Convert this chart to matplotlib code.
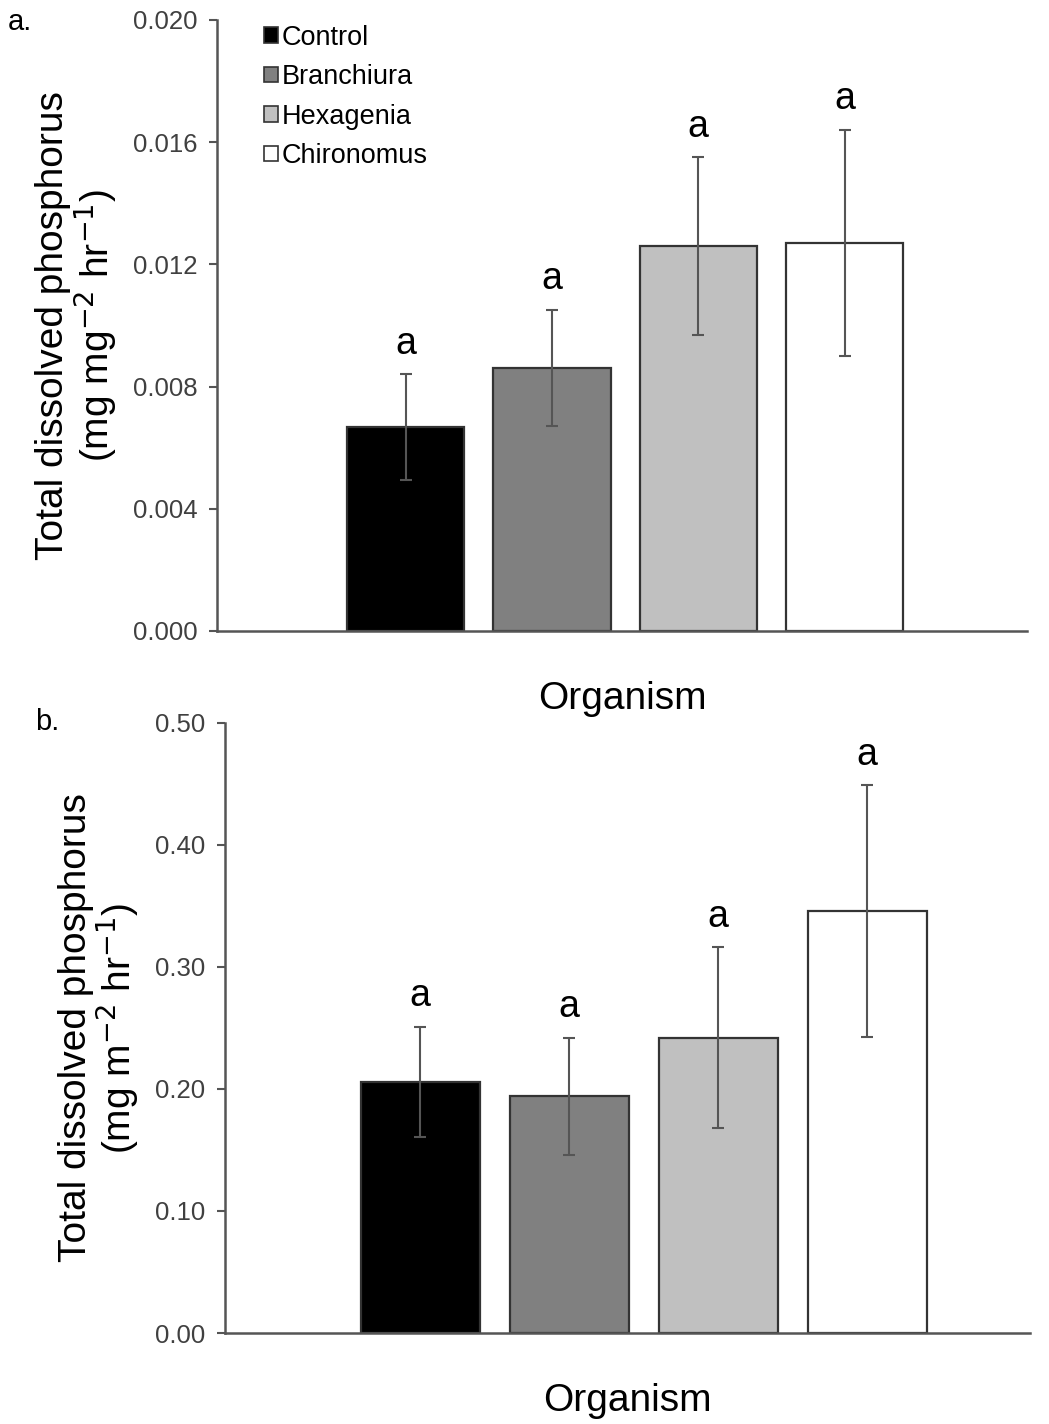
import matplotlib.pyplot as plt
from matplotlib.patches import Patch

plt.rcParams['font.family'] = ['Liberation Sans', 'DejaVu Sans']
plt.rcParams['axes.unicode_minus'] = False

organisms = ["Control", "Branchiura", "Hexagenia", "Chironomus"]
colors = ["#000000", "#808080", "#c0c0c0", "#ffffff"]

# panel a: per mg organism
tdp_a = [0.00668, 0.00861, 0.0126, 0.0127]
err_a = [0.00173, 0.0019, 0.0029, 0.0037]
letters_a = ["a", "a", "a", "a"]

# panel b: per m2
tdp_b = [0.206, 0.194, 0.242, 0.346]
err_b = [0.045, 0.048, 0.074, 0.103]
letters_b = ["a", "a", "a", "a"]

fig = plt.figure(figsize=(10.49, 14.24), dpi=100)
ax1 = fig.add_axes([0.2069, 0.5569, 0.7725, 0.4291])
ax2 = fig.add_axes([0.2145, 0.0639, 0.7670, 0.4284])

spine_col = "#555555"
tick_col = "#404040"


def draw(ax, vals, errs, letters, ylim, yticks, fmt, ylabel, xlim):
    x = range(len(vals))
    ax.bar(x, vals, width=0.8, color=colors, edgecolor="#333333", linewidth=1.6, zorder=2)
    ax.errorbar(x, vals, yerr=errs, fmt="none", ecolor="#555555", elinewidth=1.5,
                capsize=4, capthick=1.5, zorder=3)
    for i, (v, e, l) in enumerate(zip(vals, errs, letters)):
        ax.annotate(l, (i, v + e), xytext=(0, 9), textcoords="offset points",
                    ha="center", va="bottom", fontsize=27)
    ax.set_xlim(*xlim)
    ax.set_ylim(*ylim)
    ax.set_yticks(yticks)
    ax.set_yticklabels([fmt.format(t) for t in yticks], color=tick_col, fontsize=18.5)
    ax.set_xticks([])
    for s in ["top", "right"]:
        ax.spines[s].set_visible(False)
    for s in ["left", "bottom"]:
        ax.spines[s].set_color(spine_col)
        ax.spines[s].set_linewidth(1.8)
    ax.tick_params(axis="y", direction="out", length=6, width=1.5, color=spine_col, pad=8)
    ax.set_xlabel("Organism", fontsize=28, labelpad=36)
    ax.set_ylabel(ylabel, fontsize=28, labelpad=10, linespacing=1.0)


draw(ax1, tdp_a, err_a, letters_a, (0, 0.020),
     [0, 0.004, 0.008, 0.012, 0.016, 0.020], "{:.3f}",
     "Total dissolved phosphorus\n(mg mg$^{-2}$ hr$^{-1}$)", (-1.29, 4.25))
draw(ax2, tdp_b, err_b, letters_b, (0, 0.50),
     [0, 0.10, 0.20, 0.30, 0.40, 0.50], "{:.2f}",
     "Total dissolved phosphorus\n(mg m$^{-2}$ hr$^{-1}$)", (-1.31, 4.09))

# legend on panel a
handles = [Patch(facecolor=c, edgecolor="#333333", linewidth=1.2) for c in colors]
ax1.legend(handles, organisms, loc="upper left", bbox_to_anchor=(0.045, 1.01),
           frameon=False, fontsize=19.5, handlelength=0.5, handleheight=0.5,
           handletextpad=0.15, labelspacing=0.5, borderaxespad=0.0)

fig.text(8 / 1049, 1 - 22 / 1424, "a.", fontsize=21, va="center", ha="left")
fig.text(35 / 1049, 1 - 722 / 1424, "b.", fontsize=21, va="center", ha="left")

fig.savefig("out.png", dpi=100)
